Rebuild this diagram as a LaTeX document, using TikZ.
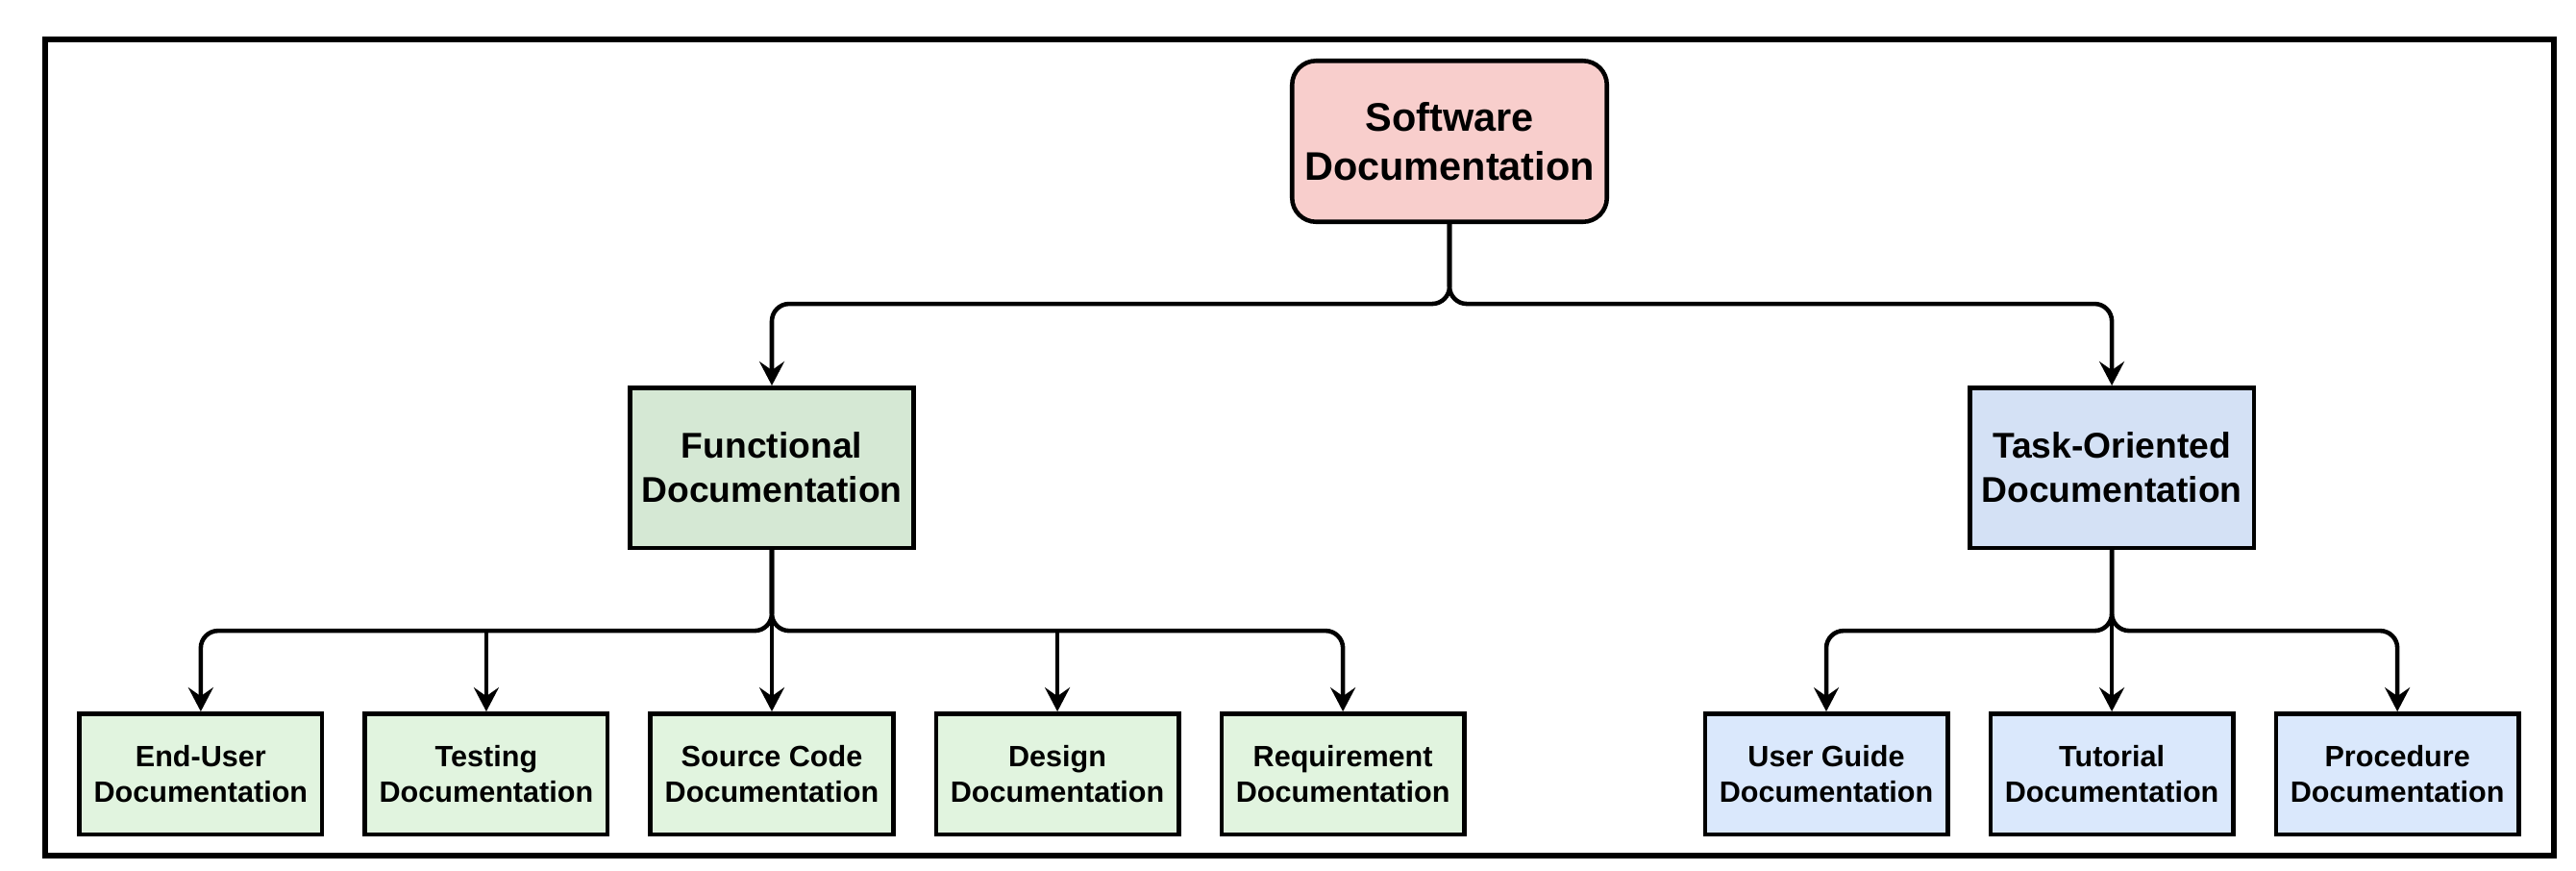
\documentclass[tikz,border=0pt]{standalone}
\usepackage{fontspec}
\setmainfont{Liberation Sans}
\usetikzlibrary{shapes,arrows.meta,positioning}

\definecolor{rootred}{HTML}{F8CECC}
\definecolor{funcgreen}{HTML}{D5E8D4}
\definecolor{taskblue}{HTML}{D4E1F5}
\definecolor{leafgreen}{HTML}{E1F4DF}
\definecolor{leafblue}{HTML}{DAE8FC}

\begin{document}
\begin{tikzpicture}
            % Estilos
            \tikzstyle{root}=[draw, rectangle, rounded corners=0.25cm, line width=1.3pt, fill=rootred, minimum width=3.275cm, minimum height=1.675cm, align=center, inner sep=0pt, font=\bfseries\fontsize{11.8}{14.7}\selectfont]
            \tikzstyle{category}=[draw, rectangle, line width=1.3pt, minimum width=2.955cm, minimum height=1.665cm, align=center, inner sep=0pt, font=\bfseries\fontsize{10.6}{13.1}\selectfont]
            \tikzstyle{leaf}=[draw, rectangle, line width=1.3pt, minimum width=2.525cm, minimum height=1.255cm, align=center, inner sep=0pt, font=\bfseries\fontsize{8.7}{10.7}\selectfont]
            \tikzstyle{arrow}=[-{Stealth[length=0.25cm, width=0.26cm, inset=0.09cm]}, line width=1.3pt, rounded corners=0.18cm]

            \useasboundingbox (0,0) rectangle (26.8,-9.05);
            \draw[line width=1.7pt] (0.47,-0.41) rectangle (26.57,-8.90);

            % Nodos
            \node[root] (software) at (15.08,-1.47) {Software\\Documentation};
            \node[category, fill=funcgreen, below=1.68cm of software, xshift=-7.05cm] (functional) {Functional\\Documentation};
            \node[category, fill=taskblue, right=10.94cm of functional] (task) {Task-Oriented\\Documentation};

            \node[leaf, fill=leafgreen, below=1.68cm of functional] (sourcecode) {Source Code\\Documentation};
            \node[leaf, fill=leafgreen, left=0.4cm of sourcecode] (testing) {Testing\\Documentation};
            \node[leaf, fill=leafgreen, left=0.4cm of testing] (enduser) {End-User\\Documentation};
            \node[leaf, fill=leafgreen, right=0.4cm of sourcecode] (design) {Design\\Documentation};
            \node[leaf, fill=leafgreen, right=0.4cm of design] (requirement) {Requirement\\Documentation};

            \node[leaf, fill=leafblue, below=1.68cm of task] (tutorial) {Tutorial\\Documentation};
            \node[leaf, fill=leafblue, left=0.4cm of tutorial] (userguide) {User Guide\\Documentation};
            \node[leaf, fill=leafblue, right=0.4cm of tutorial] (procedure) {Procedure\\Documentation};

            \coordinate (funcbus) at ([yshift=-0.84cm]functional.south);

            % Flechas
            \draw[arrow] (software.south) -- ++(0,-0.83) -| (functional.north);
            \draw[arrow] (software.south) -- ++(0,-0.83) -| (task.north);
            \foreach \doc in {enduser, requirement}
                \draw[arrow] (functional.south) -- (funcbus) -| (\doc.north);
            \foreach \doc in {testing, design}
                \draw[arrow] (funcbus -| \doc.north) -- (\doc.north);
            \draw[arrow] (functional.south) -- (sourcecode.north);
            \foreach \doc in {userguide, procedure}
                \draw[arrow] (task.south) -- ++(0,-0.84) -| (\doc.north);
            \draw[arrow] (task.south) -- (tutorial.north);
      \end{tikzpicture}
\end{document}
